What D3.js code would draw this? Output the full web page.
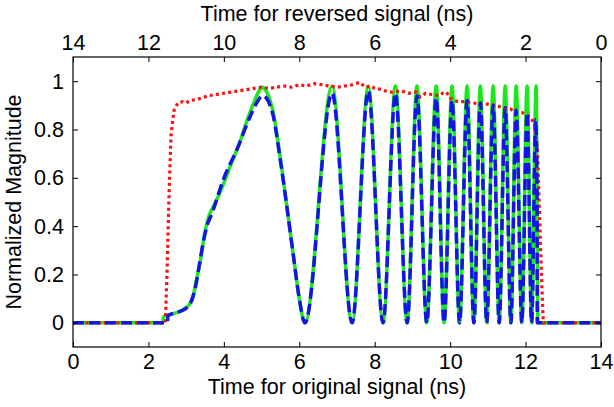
<!DOCTYPE html>
<html>
<head>
<meta charset="utf-8">
<script src="https://cdn.jsdelivr.net/npm/d3@7"></script>
<style>
  html, body { margin: 0; padding: 0; background: #fff; }
  svg { display: block; font-family: "Liberation Sans", Arial, sans-serif; }
</style>
</head>
<body>
<svg id="chart" width="614" height="407"></svg>
<script>
// ---- data ----
const xTicks = [0, 2, 4, 6, 8, 10, 12, 14];
const topTicks = [14, 12, 10, 8, 6, 4, 2, 0];
const yTicks = [0, 0.2, 0.4, 0.6, 0.8, 1];

const greenT = [0, 2.38, 2.40, 2.6, 2.8, 2.95, 3.08, 3.17, 3.25, 3.37, 3.48, 3.6, 3.75, 3.9, 4.15, 4.43, 4.62, 4.78, 4.9, 5.01, 5.12, 5.31, 5.5, 5.68, 5.85, 6.0, 6.15,
  6.87, 7.40, 7.83, 8.22, 8.55, 8.86, 9.12, 9.38, 9.63, 9.84, 10.05, 10.25, 10.45, 10.63, 10.8, 10.97, 11.14, 11.3, 11.46, 11.61, 11.75, 11.9, 12.04, 12.16, 12.28, 12.33, 14];
const greenV = [0, 0, 0.025, 0.035, 0.045, 0.058, 0.075, 0.1, 0.16, 0.25, 0.36, 0.44, 0.49, 0.54, 0.64, 0.75, 0.84, 0.905, 0.95, 0.975, 0.96, 0.87, 0.68, 0.47, 0.27, 0.1, 0,
  0.98, 0, 0.98, 0, 0.98, 0, 0.98, 0, 0.98, 0, 0.98, 0, 0.98, 0, 0.98, 0, 0.98, 0, 0.98, 0, 0.98, 0, 0.98, 0, 0.98, 0, 0];

const blueT = [0, 2.5, 2.52, 2.8, 3.0, 3.15, 3.25, 3.35, 3.45, 3.55, 3.69, 3.98, 4.38, 4.7, 4.87, 5.03, 5.15, 5.31, 5.5, 5.68, 5.85, 6.0, 6.15,
  6.87, 7.40, 7.83, 8.22, 8.55, 8.86, 9.12, 9.38, 9.63, 9.84, 10.05, 10.25, 10.45, 10.63, 10.8, 10.97, 11.14, 11.3, 11.46, 11.61, 11.75, 11.9, 12.04, 12.16, 12.27, 12.305, 12.31, 14];
const blueV = [0, 0, 0.03, 0.045, 0.06, 0.095, 0.15, 0.24, 0.33, 0.4, 0.455, 0.59, 0.73, 0.855, 0.91, 0.94, 0.925, 0.855, 0.67, 0.47, 0.27, 0.1, 0,
  0.95, 0, 0.96, 0, 0.95, 0, 0.94, 0, 0.93, 0, 0.92, 0, 0.92, 0, 0.91, 0, 0.9, 0, 0.89, 0, 0.88, 0, 0.87, 0, 0.84, 0.5, 0, 0];

const redT = [0, 2.45, 2.5, 2.55, 2.6, 2.68, 2.78, 2.9, 3.0, 3.1, 3.3, 3.5, 3.6, 3.8, 4.0, 4.2, 4.4, 4.6, 4.8, 5.0, 5.2, 5.4, 5.6, 5.8, 6.0, 6.2, 6.4, 6.6, 6.8, 7.0, 7.2, 7.4, 7.6, 7.75, 7.9, 8.0, 8.2, 8.35, 8.5, 8.7, 8.9, 9.1, 9.2, 9.35, 9.5, 9.7, 9.8, 9.9, 10.0, 10.2, 10.4, 10.6, 10.8, 11.0, 11.2, 11.4, 11.6, 11.75, 11.9, 12.05, 12.15, 12.25, 12.32, 12.36, 12.4, 12.44, 12.47, 14];
const redV = [0, 0, 0.25, 0.55, 0.78, 0.88, 0.91, 0.915, 0.91, 0.92, 0.925, 0.935, 0.94, 0.945, 0.95, 0.955, 0.96, 0.965, 0.97, 0.975, 0.97, 0.975, 0.98, 0.975, 0.985, 0.98, 0.99, 0.985, 0.98, 0.975, 0.98, 0.985, 0.995, 0.975, 0.98, 0.97, 0.965, 0.955, 0.955, 0.96, 0.95, 0.955, 0.935, 0.95, 0.945, 0.94, 0.95, 0.955, 0.93, 0.915, 0.915, 0.91, 0.905, 0.905, 0.9, 0.89, 0.885, 0.87, 0.87, 0.86, 0.845, 0.82, 0.7, 0.5, 0.3, 0.12, 0, 0];

// ---- layout ----
const W = 614, H = 407;
const m = { left: 73, right: 13, top: 57, bottom: 60 };
const svg = d3.select("#chart");

const x = d3.scaleLinear().domain([0, 14]).range([m.left, W - m.right]);
const xTop = d3.scaleLinear().domain([14, 0]).range([m.left, W - m.right]);
const y = d3.scaleLinear().domain([-0.1, 1.1]).range([H - m.bottom, m.top]);

const fontSize = 21.5;

// clip
svg.append("clipPath").attr("id", "clip").append("rect")
  .attr("x", m.left).attr("y", m.top)
  .attr("width", W - m.left - m.right).attr("height", H - m.top - m.bottom);

const toPts = (T, V) => T.map((t, i) => [t, V[i]]);
const lineMono = d3.line().x(d => x(d[0])).y(d => y(d[1])).curve(d3.curveMonotoneX);
const lineLin = d3.line().x(d => x(d[0])).y(d => y(d[1]));

const g = svg.append("g").attr("clip-path", "url(#clip)");

g.append("path").attr("d", lineMono(toPts(greenT, greenV)))
  .attr("fill", "none").attr("stroke", "#1ae81a").attr("stroke-width", 3.5)
  .attr("stroke-linejoin", "round");

g.append("path").attr("d", lineLin(toPts(redT, redV)))
  .attr("fill", "none").attr("stroke", "#ff1010").attr("stroke-width", 3.2)
  .attr("stroke-dasharray", "3,3.2");

g.append("path").attr("d", lineMono(toPts(blueT, blueV)))
  .attr("fill", "none").attr("stroke", "#1414e6").attr("stroke-width", 3.5)
  .attr("stroke-dasharray", "11,5");

// axes
const tickLen = 5;
const axB = svg.append("g").attr("transform", `translate(0,${H - m.bottom})`)
  .call(d3.axisBottom(x).tickValues(xTicks).tickFormat(d3.format("d")).tickSize(-tickLen).tickPadding(7));
const axT = svg.append("g").attr("transform", `translate(0,${m.top})`)
  .call(d3.axisTop(xTop).tickValues(topTicks).tickFormat(d3.format("d")).tickSize(-tickLen).tickPadding(7));
const axL = svg.append("g").attr("transform", `translate(${m.left},0)`)
  .call(d3.axisLeft(y).tickValues(yTicks).tickFormat(d => d === 0 || d === 1 ? d3.format("d")(d) : d3.format(".1f")(d)).tickSize(-tickLen).tickPadding(9));
const axR = svg.append("g").attr("transform", `translate(${W - m.right},0)`)
  .call(d3.axisRight(y).tickValues(yTicks).tickFormat("").tickSize(-tickLen));

[axB, axT, axL, axR].forEach(a => {
  a.select(".domain").remove();
  a.selectAll("line").attr("stroke", "#000").attr("stroke-width", 1);
  a.selectAll("text").attr("font-size", fontSize).attr("fill", "#000")
    .attr("font-family", "Liberation Sans, Arial, sans-serif");
});

// frame
svg.append("rect").attr("x", m.left).attr("y", m.top)
  .attr("width", W - m.left - m.right).attr("height", H - m.top - m.bottom)
  .attr("fill", "none").attr("stroke", "#000").attr("stroke-width", 1.2);

// titles
svg.append("text").attr("x", (m.left + W - m.right) / 2).attr("y", 394)
  .attr("text-anchor", "middle").attr("font-size", fontSize).text("Time for original signal (ns)");
svg.append("text").attr("x", (m.left + W - m.right) / 2).attr("y", 21)
  .attr("text-anchor", "middle").attr("font-size", fontSize).text("Time for reversed signal (ns)");
svg.append("text").attr("transform", `translate(21,${(m.top + H - m.bottom) / 2}) rotate(-90)`)
  .attr("text-anchor", "middle").attr("font-size", fontSize).text("Normalized Magnitude");
</script>
</body>
</html>
